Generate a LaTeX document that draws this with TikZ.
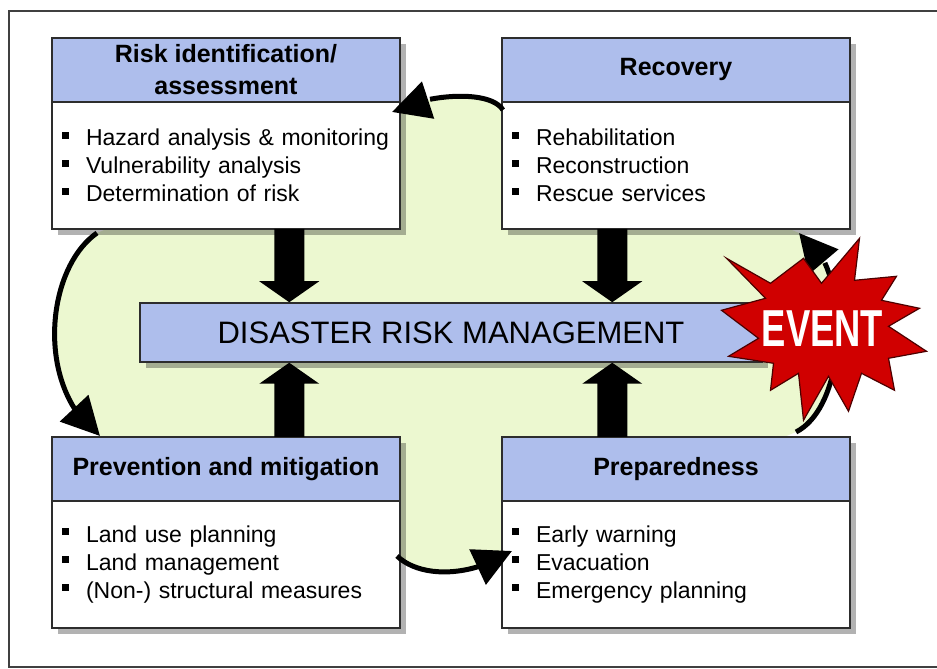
\documentclass[tikz,border=0pt]{standalone}
\usepackage{fontspec}
\setmainfont{Liberation Sans}
\usepackage{graphicx}
\usetikzlibrary{
    positioning,
    calc,
    shadows,
    backgrounds,
    arrows.meta,
    bending
}

\definecolor{headblue}{RGB}{174,190,236}
\definecolor{cyclegreen}{RGB}{236,248,208}
\definecolor{eventred}{RGB}{208,0,0}
\definecolor{boxline}{RGB}{45,45,45}

\newcommand{\bitem}[1]{\makebox[24pt][l]{\rule[7pt]{7pt}{7pt}}#1}
\newcommand{\blockarrow}[2]{%
    \fill let \p1=(#1), \p2=(#2), \n1={21*(\y1-\y2)/abs(\y1-\y2)} in
        (\x1-15,\y1) -- (\x1-15,\y2+\n1) -- (\x1-30,\y2+\n1) -- (\x2,\y2)
        -- (\x1+30,\y2+\n1) -- (\x1+15,\y2+\n1) -- (\x1+15,\y1) -- cycle;}

\begin{document}
\begin{tikzpicture}[x=1pt,y=1pt]
    \tikzstyle{head}=[draw=boxline, line width=1.5pt, outer sep=0pt, fill=headblue, minimum width=348pt, minimum height=64pt, inner sep=0pt, align=center, font=\fontsize{25}{32}\selectfont\bfseries, drop shadow={shadow xshift=6pt, shadow yshift=-6pt, fill=black, opacity=0.3}]
    \tikzstyle{body}=[draw=boxline, line width=1.5pt, outer sep=0pt, fill=white, text width=328pt, inner xsep=10pt, inner ysep=0pt, minimum height=127pt, align=left, font=\fontsize{23}{28}\selectfont, drop shadow={shadow xshift=6pt, shadow yshift=-6pt, fill=black, opacity=0.3}]
    \tikzstyle{drmbox}=[draw=boxline, line width=1.5pt, fill=headblue, minimum width=622pt, minimum height=59pt, inner sep=0pt, font=\fontsize{31}{31}\selectfont, drop shadow={shadow xshift=6pt, shadow yshift=-6pt, fill=black, opacity=0.3}]
    \tikzstyle{cyclearrow}=[line width=5pt, -{Triangle[length=38pt,width=38pt,flex]}]
    \useasboundingbox (0,0) rectangle (937,669);
    \draw [line width=1.8pt, black!75] (9,658) rectangle (950,2);

    \node [head, anchor=north west] (riskhead) at (52,631) {Risk identification/\\assessment};
    \node [body, below=0pt of riskhead] (riskbody) {\bitem{Hazard analysis \& monitoring}\\\bitem{Vulnerability analysis}\\\bitem{Determination of risk}};

    \node [head, anchor=north west] (rechead) at (502,631) {Recovery};
    \node [body, below=0pt of rechead] (recbody) {\bitem{Rehabilitation}\\\bitem{Reconstruction}\\\bitem{Rescue services}};

    \node [head, anchor=north west] (prevhead) at (52,232) {Prevention and mitigation};
    \node [body, below=0pt of prevhead] (prevbody) {\bitem{Land use planning}\\\bitem{Land management}\\\bitem{(Non-) structural measures}};

    \node [head, anchor=north west] (prephead) at (502,232) {Preparedness};
    \node [body, below=0pt of prephead] (prepbody) {\bitem{Early warning}\\\bitem{Evacuation}\\\bitem{Emergency planning}};

    \node [drmbox] (drm) at (451,336.5) {DISASTER RISK MANAGEMENT};

    % block arrows to and from the centre
    \coordinate (colL) at ($(drm.south west)+(150,0)$);
    \coordinate (colR) at ($(drm.south west)+(473,0)$);
    \blockarrow{colL |- riskbody.south}{colL |- drm.north}
    \blockarrow{colR |- recbody.south}{colR |- drm.north}
    \blockarrow{colL |- prevhead.north}{colL |- drm.south}
    \blockarrow{colR |- prephead.north}{colR |- drm.south}

    % ends of the cycle
    \coordinate (topS) at ($(rechead.south west)+(1,-8)$);
    \coordinate (topE) at ($(riskhead.south east)+(-8,-10)$);
    \coordinate (leftS) at ($(riskbody.south west)+(45,-4)$);
    \coordinate (leftE) at ($(prevhead.north west)+(48,1)$);
    \coordinate (botS) at ($(prevbody.north east)+(-3,-55)$);
    \coordinate (botE) at ($(prepbody.north west)+(10,-50)$);
    \coordinate (rightS) at ($(prephead.north east)+(-54,5)$);
    \coordinate (rightE) at ($(recbody.south east)+(-51,-4)$);

    \begin{scope}[on background layer]
        \fill [white] (0,0) rectangle (937,669);
        \fill [cyclegreen] (leftS) .. controls +(-52,-36) and +(-65,47) .. (leftE) -- (botS)
            .. controls +(23,-22) and +(-42,-27) .. (botE) -- (rightS)
            .. controls +(55,28) and +(52,-26) .. (rightE) -- (topS)
            .. controls +(-13,21) and +(33,18) .. (topE) -- cycle;
    \end{scope}

    \draw [cyclearrow] (topS) .. controls +(-13,21) and +(33,18) .. (topE);
    \draw [cyclearrow] (leftS) .. controls +(-52,-36) and +(-65,47) .. (leftE);
    \draw [cyclearrow] (botS) .. controls +(23,-22) and +(-42,-27) .. (botE);
    \draw [cyclearrow] (rightS) .. controls +(55,28) and +(52,-26) .. (rightE);

    % the event burst
    \coordinate (burst) at (822.5,340.7);
    \filldraw [fill=eventred, draw=black!70!red, line width=1.2pt, line join=miter, shift={(burst)}]
        (-96,70) -- (-52,45) -- (-19,70) -- (-1,45) -- (37,90) -- (32,48) -- (74,52) -- (59,28)
        -- (97,20) -- (66,2) -- (104,-23) -- (66,-30) -- (72,-62) -- (39,-45) -- (26,-83) -- (6,-48)
        -- (-19,-92) -- (-24,-45) -- (-52,-62) -- (-49,-35) -- (-94,-28) -- (-64,-10) -- (-101,18)
        -- (-57,30) -- cycle;
    \node [text=white, font=\fontsize{52}{52}\selectfont\bfseries] (event) at (burst) {\scalebox{0.7}[1]{EVENT}};
\end{tikzpicture}
\end{document}
